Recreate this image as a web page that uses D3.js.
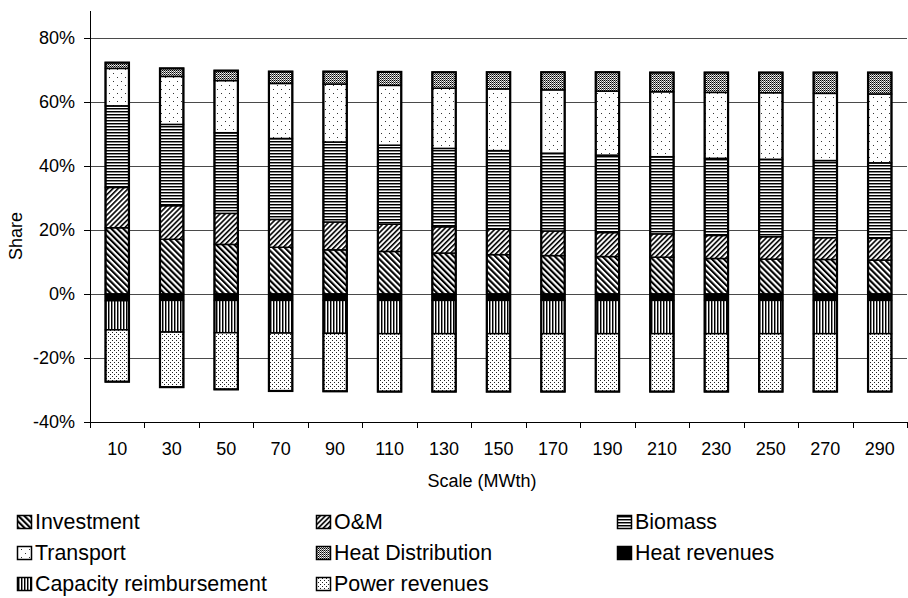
<!DOCTYPE html>
<html>
<head>
<meta charset="utf-8">
<script src="https://cdn.jsdelivr.net/npm/d3@7"></script>
<style>
  html, body { margin: 0; padding: 0; background: #fff; }
  svg { display: block; font-family: "Liberation Sans", Arial, sans-serif; }
</style>
</head>
<body>
<svg id="chart" width="908" height="598"></svg>
<script>
// ---- data ----
const categories = ["10","30","50","70","90","110","130","150","170","190","210","230","250","270","290"];
const investment     = [20.7, 17.1, 15.5, 14.6, 13.8, 13.3, 12.8, 12.3, 12.0, 11.7, 11.5, 11.1, 10.9, 10.8, 10.6];
const om             = [12.6, 10.5,  9.7,  8.7,  8.7,  8.5,  8.2,  8.0,  7.7,  7.5,  7.3,  7.2,  7.0,  6.8,  6.8];
const biomass        = [25.5, 25.4, 25.2, 25.3, 25.0, 24.7, 24.5, 24.5, 24.3, 24.2, 24.1, 24.1, 24.2, 24.1, 23.6];
const transport      = [11.7, 15.0, 16.3, 17.2, 18.1, 18.7, 18.8, 19.3, 19.8, 20.0, 20.3, 20.6, 20.8, 21.0, 21.5];
const heatDist       = [ 1.8,  2.5,  3.1,  3.7,  3.9,  4.2,  5.0,  5.2,  5.5,  5.9,  6.0,  6.2,  6.3,  6.5,  6.7];
const heatRevenues   = [-2.1, -2.0, -2.0, -2.0, -2.0, -2.0, -2.0, -2.0, -2.0, -2.0, -2.0, -2.0, -2.0, -2.0, -2.0];
const capacity       = [-9.1, -9.9,-10.1,-10.2,-10.3,-10.4,-10.4,-10.4,-10.4,-10.4,-10.4,-10.4,-10.4,-10.4,-10.4];
const powerRevenues  = [-16.2,-17.2,-17.7,-18.1,-18.1,-18.1,-18.1,-18.1,-18.1,-18.1,-18.1,-18.1,-18.1,-18.1,-18.1];
const seriesNames = ["Investment","O&M","Biomass","Transport","Heat Distribution","Heat revenues","Capacity reimbursement","Power revenues"];
const seriesValues = [investment, om, biomass, transport, heatDist, heatRevenues, capacity, powerRevenues];
const yTicks = [-40, -20, 0, 20, 40, 60, 80];
const xTitle = "Scale (MWth)";
const yTitle = "Share";

// ---- layout ----
const plotL = 90, plotR = 907, plotT = 38, plotB = 422;
const svg = d3.select("#chart");

// ---- patterns ----
const defs = svg.append("defs");
const patIds = ["p-inv","p-om","p-bio","p-tra","p-hd","p-hr","p-cap","p-pow"];
function pat(id, w, h, tf) {
  const p = defs.append("pattern").attr("id", id).attr("patternUnits", "userSpaceOnUse")
    .attr("width", w).attr("height", h);
  if (tf) p.attr("patternTransform", tf);
  p.append("rect").attr("width", w).attr("height", h).attr("fill", "#fff");
  return p;
}
pat("p-inv", 4.2, 10, "rotate(-45)").append("rect").attr("x", 0).attr("width", 2.1).attr("height", 10).attr("fill", "#000");
pat("p-om", 3.6, 10, "rotate(45)").append("rect").attr("x", 0).attr("width", 1.6).attr("height", 10).attr("fill", "#000");
{ const p = pat("p-bio", 10, 3);
  p.append("rect").attr("y", 0).attr("width", 10).attr("height", 1).attr("fill", "#000");
  p.append("rect").attr("y", 1).attr("width", 10).attr("height", 1).attr("fill", "#8a8a8a"); }
{ const p = pat("p-tra", 8, 8);
  p.append("rect").attr("x", 1).attr("y", 1).attr("width", 1).attr("height", 1).attr("fill", "#333");
  p.append("rect").attr("x", 5).attr("y", 5).attr("width", 1).attr("height", 1).attr("fill", "#333"); }
{ const p = pat("p-hd", 2, 2);
  p.append("rect").attr("x", 0).attr("y", 0).attr("width", 1).attr("height", 1).attr("fill", "#000");
  p.append("rect").attr("x", 1).attr("y", 1).attr("width", 1).attr("height", 1).attr("fill", "#555");
  p.append("rect").attr("x", 1).attr("y", 0).attr("width", 1).attr("height", 1).attr("fill", "#bbb"); }
pat("p-hr", 4, 4).append("rect").attr("width", 4).attr("height", 4).attr("fill", "#000");
{ const p = pat("p-cap", 3, 10);
  p.append("rect").attr("x", 0).attr("width", 1).attr("height", 10).attr("fill", "#000");
  p.append("rect").attr("x", 1).attr("width", 1).attr("height", 10).attr("fill", "#8a8a8a"); }
{ const p = pat("p-pow", 4, 4);
  p.append("rect").attr("x", 0).attr("y", 0).attr("width", 1).attr("height", 1).attr("fill", "#222");
  p.append("rect").attr("x", 2).attr("y", 2).attr("width", 1).attr("height", 1).attr("fill", "#222"); }

// ---- scales ----
const x = d3.scaleBand().domain(categories).range([plotL, plotR]).padding(0);
const y = d3.scaleLinear().domain([-40, 80]).range([plotB, plotT]);

// ---- table & stack ----
const table = categories.map((c, i) => {
  const row = { cat: c };
  seriesNames.forEach((s, k) => row[s] = seriesValues[k][i]);
  return row;
});
const stacked = d3.stack().keys(seriesNames).offset(d3.stackOffsetDiverging)(table);

// ---- gridlines ----
svg.append("g").selectAll("line").data(yTicks.filter(t => t > -40)).join("line")
  .attr("x1", plotL).attr("x2", plotR)
  .attr("y1", d => Math.round(y(d)) + 0.5).attr("y2", d => Math.round(y(d)) + 0.5)
  .attr("stroke", "#4a4a4a").attr("stroke-width", 1);

// ---- bars ----
const barW = x.bandwidth() * 0.43;
const gBars = svg.append("g");
stacked.forEach((layer, k) => {
  gBars.append("g").selectAll("rect").data(layer).join("rect")
    .attr("x", d => x(d.data.cat) + (x.bandwidth() - barW) / 2)
    .attr("width", barW)
    .attr("y", d => y(Math.max(d[0], d[1])))
    .attr("height", d => Math.abs(y(d[0]) - y(d[1])))
    .attr("fill", `url(#${patIds[k]})`)
    .attr("stroke", "#000").attr("stroke-width", 1.5);
});
const posTop = categories.map((c, i) => d3.sum(seriesValues, v => Math.max(0, v[i])));
const negBot = categories.map((c, i) => d3.sum(seriesValues, v => Math.min(0, v[i])));
gBars.append("g").selectAll("rect").data(categories).join("rect")
  .attr("x", c => x(c) + (x.bandwidth() - barW) / 2)
  .attr("width", barW)
  .attr("y", (c, i) => y(posTop[i]))
  .attr("height", (c, i) => y(negBot[i]) - y(posTop[i]))
  .attr("fill", "none").attr("stroke", "#000").attr("stroke-width", 2.2);

// ---- axes ----
const yAxis = svg.append("g").attr("transform", `translate(${plotL},0)`)
  .call(d3.axisLeft(y).tickValues(yTicks).tickFormat(d => d + "%").tickSize(6).tickPadding(9));
yAxis.select(".domain").remove();
yAxis.selectAll("text").attr("font-size", 18).attr("fill", "#000").attr("font-family", "Liberation Sans, Arial, sans-serif");
yAxis.selectAll("line").attr("stroke", "#000");
svg.append("line").attr("x1", plotL + 0.5).attr("x2", plotL + 0.5).attr("y1", 11).attr("y2", plotB)
  .attr("stroke", "#000").attr("stroke-width", 1);

const xAxis = svg.append("g").attr("transform", `translate(0,${plotB})`)
  .call(d3.axisBottom(x).tickSize(0).tickPadding(20));
xAxis.select(".domain").remove();
xAxis.selectAll("text").attr("font-size", 18).attr("fill", "#000").attr("font-family", "Liberation Sans, Arial, sans-serif");
svg.append("line").attr("x1", plotL).attr("x2", plotR).attr("y1", plotB + 0.5).attr("y2", plotB + 0.5)
  .attr("stroke", "#000");
const bounds = categories.map(c => x(c)).concat([x(categories[categories.length - 1]) + x.bandwidth()]);
svg.append("g").selectAll("line").data(bounds).join("line")
  .attr("x1", d => Math.round(d) + 0.5).attr("x2", d => Math.round(d) + 0.5)
  .attr("y1", plotB).attr("y2", plotB + 6).attr("stroke", "#000");

// ---- titles ----
svg.append("text").attr("x", 482).attr("y", 487).attr("text-anchor", "middle")
  .attr("font-size", 18).text(xTitle);
svg.append("text").attr("transform", "translate(22,236) rotate(-90)").attr("text-anchor", "middle")
  .attr("font-size", 18).text(yTitle);

// ---- legend ----
const colX = [17, 316, 617];
const rowY = [515, 546, 577];
const leg = svg.append("g");
seriesNames.forEach((s, k) => {
  const cx = colX[k % 3], ry = rowY[Math.floor(k / 3)];
  leg.append("rect").attr("x", cx + 0.5).attr("y", ry + 0.5).attr("width", 14).attr("height", 13)
    .attr("fill", `url(#${patIds[k]})`).attr("stroke", "#000").attr("stroke-width", 1.5);
  leg.append("text").attr("x", cx + 18).attr("y", ry + 14).attr("font-size", 21.4).text(s);
});
</script>
</body>
</html>
